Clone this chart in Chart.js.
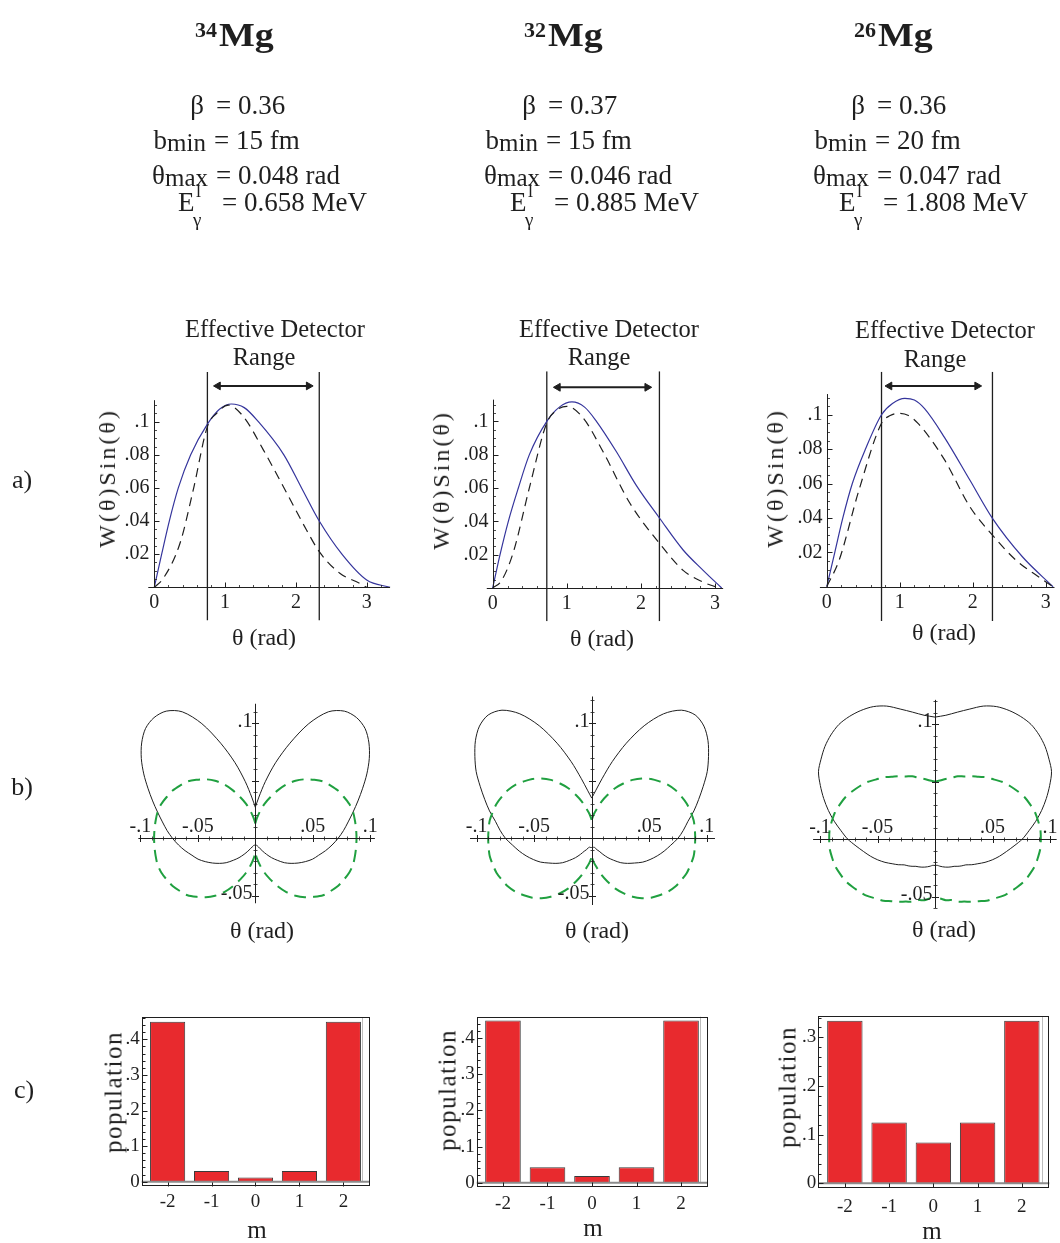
<!DOCTYPE html>
<html>
<head>
<meta charset="utf-8">
<title>Mg isotopes: gamma angular distributions and m-substate populations</title>
<script src="https://cdn.jsdelivr.net/npm/chart.js@4.4.1/dist/chart.umd.min.js"></script>
<style>
  html, body { margin: 0; padding: 0; background: #fff; }
  #page { position: relative; width: 1060px; height: 1243px; overflow: hidden;
          font-family: "Liberation Serif", "Times New Roman", serif; color: #1f1f1f; }
  #page canvas { position: absolute; left: 0; top: 0; }
  .lbl { position: absolute; white-space: nowrap; line-height: 1; }
</style>
</head>
<body>
<div id="page"></div>
<script>
// ---------------- header values ----------------
const massNumbers   = ['34', '32', '26'];
const betaValues    = ['0.36', '0.37', '0.36'];
const bMinValues    = ['15 fm', '15 fm', '20 fm'];
const thetaMaxVals  = ['0.048 rad', '0.046 rad', '0.047 rad'];
const eGammaValues  = ['0.658 MeV', '0.885 MeV', '1.808 MeV'];

// ---------------- (a) W(theta) sin(theta) vs theta ----------------
const thetaSolid34  = [0, 0.104, 0.212, 0.339, 0.514, 0.75, 0.92, 1.09, 1.27, 1.47, 1.83, 2.08, 2.33, 2.65, 3.0, 3.33];
const wSolid34      = [0, 0.020, 0.040, 0.060, 0.080, 0.0985, 0.1075, 0.1107, 0.1085, 0.100, 0.080, 0.060, 0.040, 0.020, 0.0044, 0];
const thetaDashed34 = [0, 0.127, 0.363, 0.55, 0.75, 0.88, 1.045, 1.26, 1.54, 1.87, 2.15, 2.33, 2.62, 2.9, 3.0];
const wDashed34     = [0, 0.0054, 0.0266, 0.0588, 0.097, 0.105, 0.110, 0.103, 0.083, 0.057, 0.0346, 0.0215, 0.0085, 0.0024, 0];

const thetaSolid32  = [0, 0.099, 0.211, 0.346, 0.495, 0.73, 0.90, 1.07, 1.24, 1.40, 1.67, 1.94, 2.25, 2.57, 2.84, 3.09];
const wSolid32      = [0, 0.020, 0.040, 0.060, 0.080, 0.100, 0.1085, 0.1116, 0.1085, 0.100, 0.0817, 0.0614, 0.042, 0.0228, 0.0106, 0];
const thetaDashed32 = [0, 0.12, 0.28, 0.50, 0.73, 0.86, 1.0, 1.22, 1.49, 1.85, 2.25, 2.57, 2.84, 3.0];
const wDashed32     = [0, 0.0045, 0.0217, 0.061, 0.099, 0.1065, 0.109, 0.102, 0.0817, 0.051, 0.0268, 0.0106, 0.0035, 0.0008];

const thetaSolid26  = [0, 0.11, 0.22, 0.35, 0.53, 0.75, 0.90, 1.07, 1.20, 1.34, 1.61, 1.96, 2.27, 2.68, 3.1];
const wSolid26      = [0, 0.020, 0.040, 0.060, 0.080, 0.100, 0.1065, 0.1095, 0.1085, 0.1035, 0.087, 0.062, 0.0397, 0.0174, 0];
const thetaDashed26 = [0, 0.17, 0.44, 0.75, 0.87, 1.0, 1.12, 1.25, 1.61, 1.96, 2.27, 2.59, 2.90, 3.1];
const wDashed26     = [0, 0.0155, 0.056, 0.095, 0.0995, 0.1008, 0.0995, 0.095, 0.074, 0.0465, 0.030, 0.0155, 0.0058, 0];

// effective detector range (rad) and arrow-head positions
const detector34 = [0.75, 2.33], arrow34 = [0.90, 2.18];
const detector32 = [0.73, 2.25], arrow32 = [0.88, 2.085];
const detector26 = [0.75, 2.27], arrow26 = [0.86, 2.06];
const arrowLevels = [0.1216, 0.1204, 0.1167];

const axisTicksA   = [0, 1, 2, 3];
const axisLabelsA  = ['0', '1', '2', '3'];
const wTicks       = [0.02, 0.04, 0.06, 0.08, 0.1];
const wTickLabels  = ['.02', '.04', '.06', '.08', '.1'];

// ---------------- (b) polar plots: radius vs angle measured from the vertical axis (deg) ----------------
const polarAngles = [0, 5, 10, 15, 20, 25, 30, 35, 40, 45, 50, 55, 60, 65, 70, 75, 80, 85, 90,
                     95, 100, 105, 110, 115, 120, 125, 130, 135, 140, 145, 150, 155, 160, 165, 170, 175, 180];
const rSolid34 = [0.027, 0.036, 0.050, 0.068, 0.088, 0.110, 0.127, 0.135, 0.137, 0.135, 0.129, 0.121, 0.112, 0.103, 0.095, 0.088, 0.082, 0.077, 0.072,
                  0.067, 0.062, 0.057, 0.053, 0.048, 0.043, 0.038, 0.033, 0.027, 0.022, 0.017, 0.013, 0.010, 0.008, 0.007, 0.006, 0.006, 0.006];
const rGreen34 = [0.013, 0.018, 0.024, 0.031, 0.038, 0.046, 0.054, 0.061, 0.067, 0.072, 0.077, 0.080, 0.083, 0.085, 0.087, 0.088, 0.088, 0.088, 0.088,
                  0.088, 0.088, 0.088, 0.087, 0.085, 0.083, 0.080, 0.077, 0.072, 0.067, 0.061, 0.054, 0.046, 0.038, 0.031, 0.024, 0.018, 0.013];
const rSolid32 = [0.035, 0.042, 0.053, 0.069, 0.088, 0.108, 0.125, 0.136, 0.140, 0.138, 0.132, 0.124, 0.116, 0.107, 0.099, 0.092, 0.085, 0.080, 0.075,
                  0.069, 0.064, 0.059, 0.054, 0.049, 0.043, 0.038, 0.033, 0.027, 0.022, 0.017, 0.013, 0.011, 0.009, 0.008, 0.008, 0.008, 0.008];
const rGreen32 = [0.016, 0.021, 0.026, 0.033, 0.040, 0.048, 0.055, 0.062, 0.068, 0.073, 0.077, 0.081, 0.084, 0.086, 0.088, 0.089, 0.090, 0.090, 0.090,
                  0.090, 0.090, 0.089, 0.088, 0.086, 0.084, 0.081, 0.077, 0.073, 0.068, 0.062, 0.055, 0.048, 0.040, 0.033, 0.026, 0.021, 0.016];
const rSolid26 = [0.106, 0.108, 0.112, 0.117, 0.123, 0.127, 0.129, 0.130, 0.130, 0.128, 0.125, 0.121, 0.117, 0.110, 0.103, 0.096, 0.089, 0.082, 0.076,
                  0.069, 0.063, 0.058, 0.053, 0.048, 0.043, 0.039, 0.035, 0.033, 0.031, 0.029, 0.028, 0.027, 0.026, 0.025, 0.024, 0.023, 0.023];
const rGreen26 = [0.050, 0.051, 0.053, 0.055, 0.058, 0.060, 0.063, 0.066, 0.070, 0.073, 0.077, 0.080, 0.083, 0.086, 0.088, 0.090, 0.091, 0.092, 0.092,
                  0.092, 0.091, 0.090, 0.088, 0.086, 0.083, 0.080, 0.077, 0.073, 0.070, 0.066, 0.063, 0.060, 0.058, 0.055, 0.054, 0.052, 0.051];

const polarXTicks  = [-0.1, -0.05, 0.05, 0.1];
const polarXLabels = ['-.1', '-.05', '.05', '.1'];
const polarYTicks  = [0.1, -0.05];
const polarYLabels = ['.1', '-.05'];

// ---------------- (c) m-substate populations ----------------
const mValues = [-2, -1, 0, 1, 2];
const mLabels = ['-2', '-1', '0', '1', '2'];
const pop34 = [0.449, 0.030, 0.012, 0.030, 0.449];
const pop32 = [0.449, 0.043, 0.0185, 0.043, 0.449];
const pop26 = [0.334, 0.125, 0.084, 0.125, 0.334];
const popTicks4 = [0, 0.1, 0.2, 0.3, 0.4], popLabels4 = ['0', '.1', '.2', '.3', '.4'];
const popTicks3 = [0, 0.1, 0.2, 0.3],      popLabels3 = ['0', '.1', '.2', '.3'];

// ======================================================================
const W = 1060, H = 1243;
const INK = '#1f1f1f';
const BLUE = '#35359c';
const GREEN = '#20a040';
const RED = '#e82a2e';
const SERIF = '"Liberation Serif", "Times New Roman", serif';
const page = document.getElementById('page');

function seg(ctx, x1, y1, x2, y2) { ctx.beginPath(); ctx.moveTo(x1, y1); ctx.lineTo(x2, y2); ctx.stroke(); }
function steps(a, b, step) {
  const out = [];
  for (let k = Math.ceil(a / step - 1e-9); k <= Math.floor(b / step + 1e-9); k++) out.push(+(k * step).toFixed(6));
  return out;
}
function pts(xs, ys) { return xs.map((x, i) => ({ x: x, y: ys[i] })); }
function polarHalf(r, side) {
  return polarAngles.map((a, i) => {
    const t = a * Math.PI / 180;
    return { x: side * r[i] * Math.sin(t), y: r[i] * Math.cos(t) };
  });
}

// Mathematica-style axes crossing at the origin
function drawCross(chart, o) {
  const ctx = chart.ctx, X = chart.scales.x, Y = chart.scales.y;
  const px = v => X.getPixelForValue(v), py = v => Y.getPixelForValue(v);
  const x0 = Math.round(px(0)) + 0.5, y0 = Math.round(py(0)) + 0.5;
  ctx.save();
  ctx.strokeStyle = INK; ctx.fillStyle = INK; ctx.lineWidth = 1;
  seg(ctx, px(o.xRange[0]), y0, px(o.xRange[1]), y0);
  seg(ctx, x0, py(o.yRange[0]), x0, py(o.yRange[1]));
  const xt = (v, len) => { const p = Math.round(px(v)) + 0.5; if (o.both) seg(ctx, p, y0 - len, p, y0 + len); else seg(ctx, p, y0, p, y0 - len); };
  const yt = (v, len) => { const p = Math.round(py(v)) + 0.5; if (o.both) seg(ctx, x0 - len, p, x0 + len, p); else seg(ctx, x0, p, x0 + len, p); };
  ctx.lineWidth = 0.8;
  steps(o.xRange[0], o.xRange[1], o.xMinor).forEach(v => { if (v !== 0) xt(v, o.minorLen); });
  steps(o.yRange[0], o.yRange[1], o.yMinor).forEach(v => { if (v !== 0) yt(v, o.minorLen); });
  ctx.lineWidth = 1;
  o.xMajor.forEach(v => { if (v !== 0) xt(v, o.majorLen); });
  o.yMajor.forEach(v => { if (v !== 0) yt(v, o.majorLen); });
  ctx.font = o.fontSize + 'px ' + SERIF;
  ctx.textAlign = 'center'; ctx.textBaseline = 'middle';
  o.xLabelVals.forEach((v, i) => ctx.fillText(o.xLabels[i], px(v) + (o.xLabelDx || 0), y0 + o.xLabelDy));
  ctx.textAlign = 'right';
  o.yLabelVals.forEach((v, i) => ctx.fillText(o.yLabels[i], x0 + o.yLabelDx, py(v) + (o.yLabelDy || 0)));
  ctx.restore();
}

// framed bar-chart decoration
function drawFrame(chart, o) {
  const ctx = chart.ctx, X = chart.scales.x, Y = chart.scales.y;
  const { left, right, top, bottom } = chart.chartArea;
  const py = v => Y.getPixelForValue(v);
  ctx.save();
  ctx.strokeStyle = '#bdbdbd'; ctx.lineWidth = 1;
  seg(ctx, Math.round(right) - 6.5, top, Math.round(right) - 6.5, py(0));
  ctx.strokeStyle = '#8c8c8c'; ctx.lineWidth = 2;
  seg(ctx, left, py(0), right, py(0));
  ctx.strokeStyle = INK; ctx.lineWidth = 1;
  ctx.strokeRect(Math.round(left) + 0.5, Math.round(top) + 0.5, Math.round(right - left) - 1, Math.round(bottom - top) - 1);
  const L = Math.round(left) + 0.5;
  steps(Y.min, Y.max, 0.02).forEach(v => { const p = Math.round(py(v)) + 0.5; seg(ctx, L, p, L + 3, p); });
  o.yTicks.forEach(v => { const p = Math.round(py(v)) + 0.5; seg(ctx, L, p, L + 5, p); });
  const B = Math.round(bottom) - 0.5;
  o.xTicks.forEach(v => { const p = Math.round(X.getPixelForValue(v)) + 0.5; seg(ctx, p, B, p, B - 4); });
  ctx.fillStyle = INK;
  ctx.font = o.fontSize + 'px ' + SERIF;
  ctx.textAlign = 'right'; ctx.textBaseline = 'middle';
  o.yTicks.forEach((v, i) => ctx.fillText(o.yLabels[i], left - 2, py(v)));
  ctx.textAlign = 'center';
  o.xTicks.forEach((v, i) => ctx.fillText(o.xLabels[i], X.getPixelForValue(v), bottom + o.xLabelDy));
  ctx.restore();
}

function newCanvas() {
  const c = document.createElement('canvas');
  c.width = W; c.height = H;
  c.style.width = W + 'px'; c.style.height = H + 'px';
  page.appendChild(c);
  return c;
}

function baseOptions(area, xr, yr) {
  return {
    responsive: false, animation: false, devicePixelRatio: 1, events: [],
    layout: { padding: { left: area.left, top: area.top, right: W - area.right, bottom: H - area.bottom } },
    plugins: { legend: { display: false }, tooltip: { enabled: false }, title: { display: false } },
    scales: {
      x: { type: 'linear', display: false, offset: false, min: xr[0], max: xr[1] },
      y: { type: 'linear', display: false, min: yr[0], max: yr[1] }
    }
  };
}

// ---------- row (a) ----------
const rowA = [
  { ox: 154.3, oy: 587.3, sx: 70.8, sy: 1656, xr: [-0.15, 3.45], yr: [-0.02, 0.13], axX: [-0.085, 3.33], axY: [0, 0.113],
    solid: [thetaSolid34, wSolid34], dashed: [thetaDashed34, wDashed34], det: detector34, arr: arrow34, lvl: arrowLevels[0] },
  { ox: 492.7, oy: 588.0, sx: 74.1, sy: 1667, xr: [-0.15, 3.30], yr: [-0.02, 0.13], axX: [-0.08, 3.11], axY: [0, 0.113],
    solid: [thetaSolid32, wSolid32], dashed: [thetaDashed32, wDashed32], det: detector32, arr: arrow32, lvl: arrowLevels[1] },
  { ox: 827.0, oy: 586.7, sx: 74.5, sy: 1720, xr: [-0.15, 3.12], yr: [-0.02, 0.125], axX: [-0.094, 3.12], axY: [0, 0.112],
    solid: [thetaSolid26, wSolid26], dashed: [thetaDashed26, wDashed26], det: detector26, arr: arrow26, lvl: arrowLevels[2] }
];

rowA.forEach(p => {
  const area = { left: p.ox + p.xr[0] * p.sx, right: p.ox + p.xr[1] * p.sx, top: p.oy - p.yr[1] * p.sy, bottom: p.oy - p.yr[0] * p.sy };
  const axes = { xRange: p.axX, yRange: p.axY, xMinor: 0.2, yMinor: 0.005, xMajor: axisTicksA, yMajor: wTicks,
    xLabelVals: axisTicksA, xLabels: axisLabelsA, yLabelVals: wTicks, yLabels: wTickLabels,
    both: false, minorLen: 2.5, majorLen: 5, fontSize: 20, xLabelDy: 15, yLabelDx: -5 };
  const line = { showLine: true, pointRadius: 0, borderWidth: 1.2, fill: false };
  new Chart(newCanvas(), {
    type: 'scatter',
    data: { datasets: [
      Object.assign({}, line, { data: pts(p.dashed[0], p.dashed[1]), borderColor: INK, borderDash: [9, 6], cubicInterpolationMode: 'monotone' }),
      Object.assign({}, line, { data: pts(p.solid[0], p.solid[1]), borderColor: BLUE, cubicInterpolationMode: 'monotone' }),
      Object.assign({}, line, { data: pts([p.det[0], p.det[0]], p.yr), borderColor: INK, borderWidth: 1.3 }),
      Object.assign({}, line, { data: pts([p.det[1], p.det[1]], p.yr), borderColor: INK, borderWidth: 1.3 }),
      Object.assign({}, line, { data: pts(p.arr, [p.lvl, p.lvl]), borderColor: INK, borderWidth: 2,
        pointStyle: 'triangle', pointRadius: 4.5, pointBackgroundColor: INK, pointBorderColor: INK, pointBorderWidth: 1,
        pointRotation: ctx => (ctx.dataIndex === 0 ? -90 : 90) })
    ] },
    options: baseOptions(area, p.xr, p.yr),
    plugins: [{ id: 'axesA', afterDatasetsDraw: c => drawCross(c, axes) }]
  });
});

// ---------- row (b) ----------
const rowB = [
  { ox: 255.3, oy: 838.3, s: 1150, xr: [-0.12, 0.12], yr: [-0.07, 0.13], axX: [-0.1017, 0.104], axY: [-0.0565, 0.117], solid: rSolid34, green: rGreen34 },
  { ox: 591.7, oy: 838.3, s: 1150, xr: [-0.12, 0.12], yr: [-0.07, 0.13], axX: [-0.1058, 0.1072], axY: [-0.058, 0.1233], solid: rSolid32, green: rGreen32 },
  { ox: 935.0, oy: 839.0, s: 1150, xr: [-0.12, 0.108], yr: [-0.07, 0.13], axX: [-0.106, 0.1058], axY: [-0.060, 0.121], solid: rSolid26, green: rGreen26 }
];

rowB.forEach(p => {
  const area = { left: p.ox + p.xr[0] * p.s, right: p.ox + p.xr[1] * p.s, top: p.oy - p.yr[1] * p.s, bottom: p.oy - p.yr[0] * p.s };
  const axes = { xRange: p.axX, yRange: p.axY, xMinor: 0.01, yMinor: 0.01, xMajor: polarXTicks, yMajor: [-0.05, 0.05, 0.1],
    xLabelVals: polarXTicks, xLabels: polarXLabels, yLabelVals: polarYTicks, yLabels: polarYLabels,
    both: true, minorLen: 2, majorLen: 3.5, fontSize: 20, xLabelDy: -12, yLabelDx: -3, yLabelDy: -2 };
  const line = { showLine: true, pointRadius: 0, fill: false, tension: 0.3 };
  new Chart(newCanvas(), {
    type: 'scatter',
    data: { datasets: [
      Object.assign({}, line, { data: polarHalf(p.green, 1),  borderColor: GREEN, borderWidth: 2, borderDash: [12, 7] }),
      Object.assign({}, line, { data: polarHalf(p.green, -1), borderColor: GREEN, borderWidth: 2, borderDash: [12, 7] }),
      Object.assign({}, line, { data: polarHalf(p.solid, 1),  borderColor: INK, borderWidth: 1 }),
      Object.assign({}, line, { data: polarHalf(p.solid, -1), borderColor: INK, borderWidth: 1 })
    ] },
    options: baseOptions(area, p.xr, p.yr),
    plugins: [{ id: 'axesB', afterDatasetsDraw: c => drawCross(c, axes) }]
  });
});

// ---------- row (c) ----------
const rowC = [
  { area: { left: 141.7, right: 369.3, top: 1017.3, bottom: 1186.7 }, xr: [-2.59, 2.59], yr: [-0.014, 0.4618], pop: pop34, yTicks: popTicks4, yLabels: popLabels4, dy: 15 },
  { area: { left: 476.7, right: 707.3, top: 1016.7, bottom: 1186.7 }, xr: [-2.59, 2.59], yr: [-0.0111, 0.4598], pop: pop32, yTicks: popTicks4, yLabels: popLabels4, dy: 17 },
  { area: { left: 818.3, right: 1049.3, top: 1016.0, bottom: 1187.7 }, xr: [-2.60, 2.62], yr: [-0.009, 0.3436], pop: pop26, yTicks: popTicks3, yLabels: popLabels3, dy: 19 }
];

rowC.forEach(p => {
  const deco = { yTicks: p.yTicks, yLabels: p.yLabels, xTicks: mValues, xLabels: mLabels, fontSize: 19, xLabelDy: p.dy };
  new Chart(newCanvas(), {
    type: 'bar',
    data: { datasets: [{ data: pts(mValues, p.pop), backgroundColor: RED, borderColor: '#3a3a3a', borderWidth: 1,
      barPercentage: 1, categoryPercentage: 0.8 }] },
    options: baseOptions(p.area, p.xr, p.yr),
    plugins: [{ id: 'frameC', afterDatasetsDraw: c => drawFrame(c, deco) }]
  });
});

// ---------------- text ----------------
function centered(html, cx, cy, size, extra) {
  const d = document.createElement('div');
  d.className = 'lbl';
  d.innerHTML = html;
  d.style.fontSize = size + 'px';
  d.style.left = cx + 'px';
  d.style.top = cy + 'px';
  let tf = 'translate(-50%,-50%)';
  if (extra && extra.rotate) tf += ' rotate(' + extra.rotate + 'deg)';
  d.style.transform = tf;
  if (extra && extra.spacing) d.style.letterSpacing = extra.spacing + 'px';
  page.appendChild(d);
}
function atBaseline(html, x, baseline, size, align, style) {
  const d = document.createElement('div');
  d.className = 'lbl';
  d.innerHTML = html;
  d.style.fontSize = size + 'px';
  d.style.left = x + 'px';
  d.style.top = (baseline - 0.8375 * size) + 'px';
  if (style) d.style.cssText += style;
  if (align === 'right') d.style.transform = 'translateX(-100%)';
  page.appendChild(d);
}

const headOffsets = [0, 329, 659];
const paramOffsets = [0, 332, 661];
const PS = 27;
const lowered = 'position:relative;top:2px;font-size:25px';
massNumbers.forEach((a, i) => {
  const h = headOffsets[i], o = paramOffsets[i];
  atBaseline(a, 195 + h, 37, 22, 'left', 'font-weight:bold;');
  atBaseline('Mg', 219 + h, 47, 33, 'left', 'font-weight:bold;transform:scaleX(1.15);transform-origin:0 0;');

  atBaseline('&beta;', 204 + o, 115, PS, 'right');
  atBaseline('= ' + betaValues[i], 216 + o, 115, PS, 'left');
  atBaseline('b<span style="' + lowered + '">min</span>', 206 + o, 150, PS, 'right');
  atBaseline('= ' + bMinValues[i], 214 + o, 150, PS, 'left');
  atBaseline('&theta;<span style="' + lowered + '">max</span>', 208 + o, 185, PS, 'right');
  atBaseline('= ' + thetaMaxVals[i], 216 + o, 185, PS, 'left');
  atBaseline('E', 178 + o, 212, PS, 'left');
  atBaseline('l', 196 + o, 197, 18, 'left');
  atBaseline('&gamma;', 193 + o, 226, 19, 'left');
  atBaseline('= ' + eGammaValues[i], 222 + o, 212, PS, 'left');
});

const edLine1 = [[275, 329], [609, 329], [945, 330]];
const edLine2 = [[264, 357], [599, 357], [935, 359]];
const thetaTitleA = [[264, 637], [602, 638], [944, 632]];
const thetaTitleB = [[262, 930], [597, 930], [944, 929]];
const mTitle = [[257, 1229], [593, 1227], [932, 1230]];
const wTitle = [[107, 478], [441, 480], [775, 478]];
const popTitle = [[113, 1092], [447, 1090], [787, 1087]];
for (let i = 0; i < 3; i++) {
  centered('Effective Detector', edLine1[i][0], edLine1[i][1], 24.5);
  centered('Range', edLine2[i][0], edLine2[i][1], 24.5);
  centered('&theta; (rad)', thetaTitleA[i][0], thetaTitleA[i][1], 24);
  centered('&theta; (rad)', thetaTitleB[i][0], thetaTitleB[i][1], 24);
  centered('m', mTitle[i][0], mTitle[i][1], 25);
  centered('W(&theta;)Sin(&theta;)', wTitle[i][0], wTitle[i][1], 24, { rotate: -90, spacing: 3 });
  centered('population', popTitle[i][0], popTitle[i][1], 25, { rotate: -90, spacing: 1.5 });
}
centered('a)', 22, 480, 26);
centered('b)', 22, 787, 26);
centered('c)', 24, 1090, 26);
</script>
</body>
</html>
